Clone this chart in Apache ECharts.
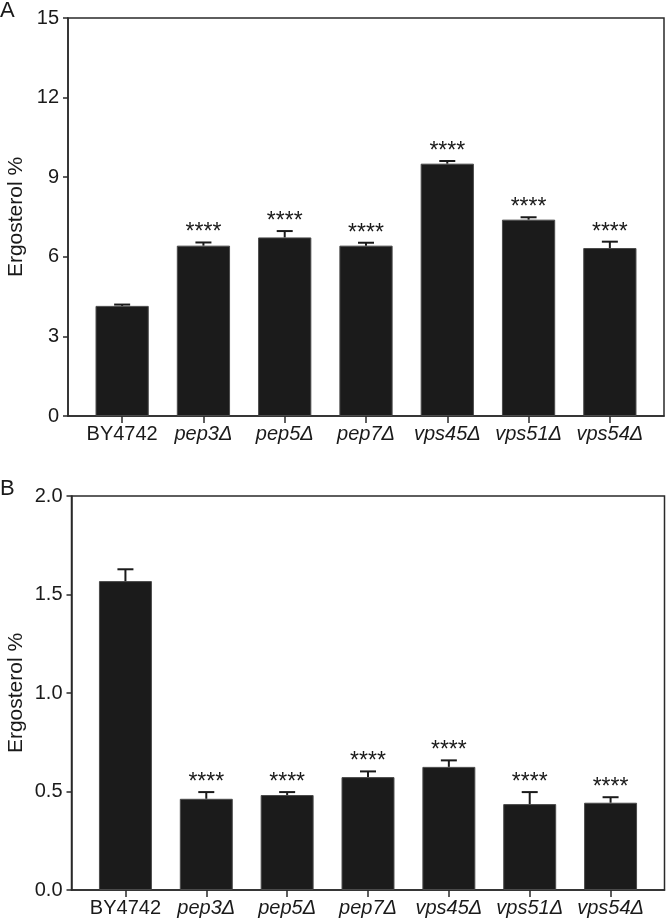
<!DOCTYPE html>
<html>
<head>
<meta charset="utf-8">
<script src="https://cdn.jsdelivr.net/npm/echarts@6/dist/echarts.min.js"></script>
<style>
html,body{margin:0;padding:0;background:#fff;}
#chart{width:666px;height:922px;}
</style>
</head>
<body>
<div id="chart"></div>
<script>
var categories = ['BY4742', 'pep3Δ', 'pep5Δ', 'pep7Δ', 'vps45Δ', 'vps51Δ', 'vps54Δ'];
var ergosterolA = [4.15, 6.42, 6.73, 6.42, 9.51, 7.40, 6.33];
var errorA = [0.05, 0.12, 0.24, 0.11, 0.10, 0.09, 0.24];
var signifA = ['', '****', '****', '****', '****', '****', '****'];
var ergosterolB = [1.568, 0.463, 0.482, 0.573, 0.625, 0.436, 0.443];
var errorB = [0.06, 0.034, 0.015, 0.029, 0.033, 0.061, 0.028];
var signifB = ['', '****', '****', '****', '****', '****', '****'];
var ticksA = [0, 3, 6, 9, 12, 15];
var ticksB = [0, 0.5, 1.0, 1.5, 2.0];
var yTitle = 'Ergosterol %';
var panelLabels = ['A', 'B'];

var FONT = 'Liberation Sans, Arial, Helvetica, sans-serif';
var INK = '#1a1a1a';
var LINE = '#2a2a2a';

var chart = echarts.init(document.getElementById('chart'), null, {renderer: 'canvas'});

function errSeries(xi, yi, means, errs, sig) {
  return {
    type: 'custom',
    xAxisIndex: xi, yAxisIndex: yi,
    z: 5,
    data: means.map(function (m, i) { return [i, m, errs[i]]; }),
    renderItem: function (params, api) {
      var i = api.value(0), m = api.value(1), e = api.value(2);
      var base = api.coord([i, m]);
      var top = api.coord([i, m + e]);
      var half = 8;
      var children = [
        {type: 'line', shape: {x1: base[0], y1: base[1], x2: top[0], y2: top[1]},
         style: {stroke: INK, lineWidth: 2}},
        {type: 'line', shape: {x1: top[0] - half, y1: top[1], x2: top[0] + half, y2: top[1]},
         style: {stroke: INK, lineWidth: 2}}
      ];
      var s = sig[params.dataIndex];
      if (s) {
        children.push({type: 'text', x: top[0], y: top[1] + 2,
          style: {text: s, fill: INK, fontSize: 23, fontFamily: FONT, align: 'center', verticalAlign: 'bottom'}});
      }
      return {type: 'group', children: children};
    }
  };
}

var catLabel = {
  fontSize: 20, fontFamily: FONT, color: INK, margin: 8, interval: 0,
  formatter: function (v) { return v === 'BY4742' ? v : '{i|' + v + '}'; },
  rich: {i: {fontStyle: 'italic', fontSize: 20, fontFamily: FONT, color: INK}}
};

var option = {
  backgroundColor: '#fff',
  animation: false,
  grid: [
    {left: 68, top: 18, width: 596, height: 398, show: true, borderColor: LINE, borderWidth: 1.5, backgroundColor: 'transparent'},
    {left: 81.5, top: 18, width: 569, height: 398},
    {left: 71.5, top: 496, width: 593, height: 394, show: true, borderColor: LINE, borderWidth: 1.5, backgroundColor: 'transparent'},
    {left: 85, top: 496, width: 566, height: 394}
  ],
  xAxis: [
    {gridIndex: 0, type: 'value', min: 0, max: 1, axisLine: {show: true, lineStyle: {color: LINE, width: 1.5}}, axisTick: {show: false}, axisLabel: {show: false}, splitLine: {show: false}},
    {gridIndex: 1, type: 'category', data: categories, axisLine: {show: false},
     axisTick: {show: true, alignWithLabel: true, interval: 0, length: 7, lineStyle: {color: LINE, width: 1.5}},
     axisLabel: catLabel, splitLine: {show: false}},
    {gridIndex: 2, type: 'value', min: 0, max: 1, axisLine: {show: true, lineStyle: {color: LINE, width: 1.5}}, axisTick: {show: false}, axisLabel: {show: false}, splitLine: {show: false}},
    {gridIndex: 3, type: 'category', data: categories, axisLine: {show: false},
     axisTick: {show: true, alignWithLabel: true, interval: 0, length: 7, lineStyle: {color: LINE, width: 1.5}},
     axisLabel: catLabel, splitLine: {show: false}}
  ],
  yAxis: [
    {gridIndex: 0, type: 'value', min: ticksA[0], max: ticksA[ticksA.length - 1], interval: ticksA[1] - ticksA[0],
     axisLine: {show: true, lineStyle: {color: LINE, width: 1.5}},
     axisTick: {show: true, length: 5, lineStyle: {color: LINE, width: 1.5}},
     axisLabel: {fontSize: 20, fontFamily: FONT, color: INK, margin: 9},
     splitLine: {show: false}},
    {gridIndex: 1, type: 'value', min: ticksA[0], max: ticksA[ticksA.length - 1], show: false},
    {gridIndex: 2, type: 'value', min: ticksB[0], max: ticksB[ticksB.length - 1], interval: ticksB[1] - ticksB[0],
     axisLine: {show: true, lineStyle: {color: LINE, width: 1.5}},
     axisTick: {show: true, length: 5, lineStyle: {color: LINE, width: 1.5}},
     axisLabel: {fontSize: 20, fontFamily: FONT, color: INK, margin: 9, formatter: function (v) { return v.toFixed(1); }},
     splitLine: {show: false}},
    {gridIndex: 3, type: 'value', min: ticksB[0], max: ticksB[ticksB.length - 1], show: false}
  ],
  graphic: [
    {type: 'text', left: 0, top: 0, style: {text: panelLabels[0], fontSize: 22, fontFamily: FONT, fill: INK}},
    {type: 'text', left: 0, top: 478, style: {text: panelLabels[1], fontSize: 22, fontFamily: FONT, fill: INK}},
    {type: 'text', x: 16, y: 217, rotation: Math.PI / 2,
     style: {text: yTitle, fontSize: 21, fontFamily: FONT, fill: INK, align: 'center', verticalAlign: 'middle'}},
    {type: 'text', x: 16, y: 693, rotation: Math.PI / 2,
     style: {text: yTitle, fontSize: 21, fontFamily: FONT, fill: INK, align: 'center', verticalAlign: 'middle'}}
  ],
  series: [
    {type: 'bar', xAxisIndex: 1, yAxisIndex: 1, data: ergosterolA, barWidth: '65.5%',
     itemStyle: {color: '#1b1b1b', borderColor: '#4a4a4a', borderWidth: 1}},
    errSeries(1, 1, ergosterolA, errorA, signifA),
    {type: 'bar', xAxisIndex: 3, yAxisIndex: 3, data: ergosterolB, barWidth: '65.5%',
     itemStyle: {color: '#1b1b1b', borderColor: '#4a4a4a', borderWidth: 1}},
    errSeries(3, 3, ergosterolB, errorB, signifB)
  ]
};
chart.setOption(option);
</script>
</body>
</html>
